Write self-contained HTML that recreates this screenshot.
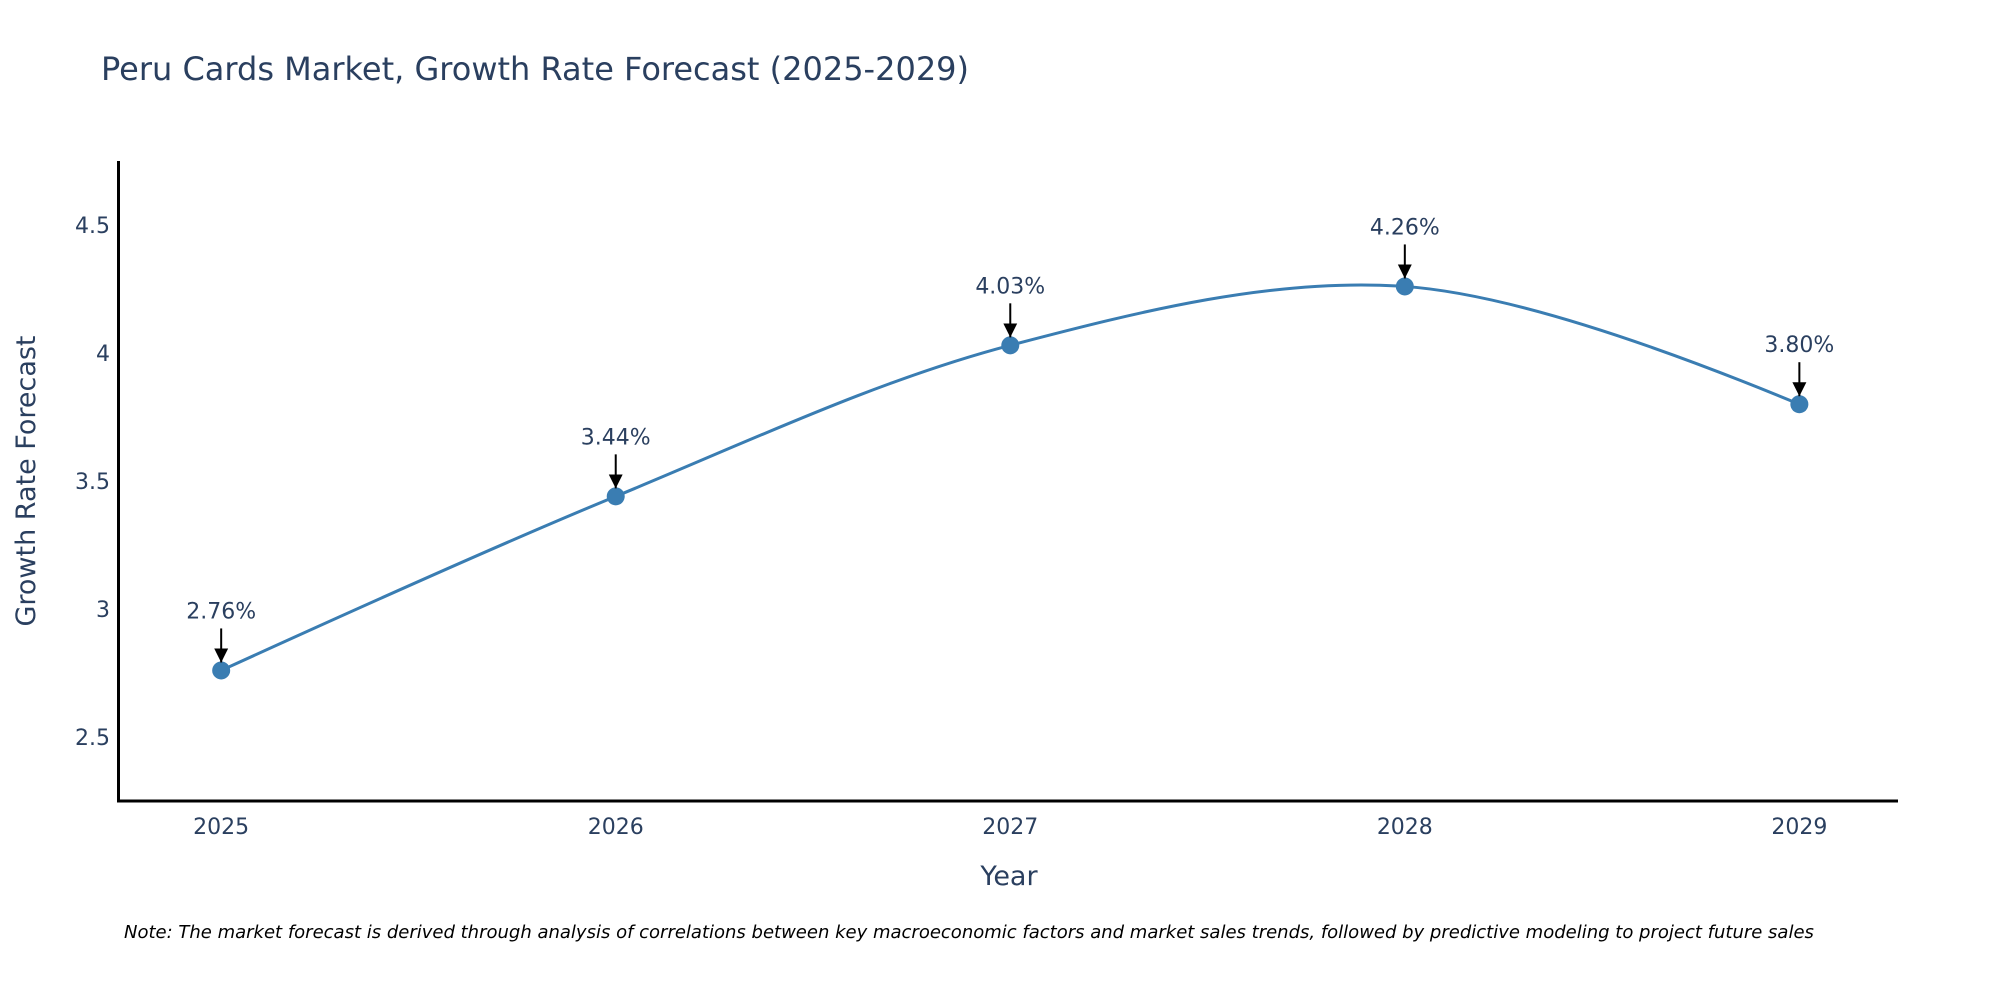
<!DOCTYPE html>
<html><head><meta charset="utf-8"><style>
html,body{margin:0;padding:0;background:#fff;}
svg{display:block;font-family:"DejaVu Sans","Liberation Sans",sans-serif;}
</style></head><body>
<svg id="chart" width="2000" height="1000" viewBox="0 0 2000 1000">
<defs><marker id="ah" markerWidth="16" markerHeight="16" refX="14" refY="8" orient="auto" markerUnits="userSpaceOnUse" viewBox="0 0 16 16"><path d="M0,1 L14,8 L0,15 z" fill="#000"/></marker></defs>
<text x="101" y="80" font-size="32" fill="#2a3f5f">Peru Cards Market, Growth Rate Forecast (2025-2029)</text>
<g id="yticks"></g>
<g id="xticks"></g>
<line x1="118.5" y1="161" x2="118.5" y2="802" stroke="#000" stroke-width="3"/>
<line x1="117" y1="801" x2="1898" y2="801" stroke="#000" stroke-width="3"/>
<text x="0" y="0" transform="translate(35,481) rotate(-90)" text-anchor="middle" font-size="27" fill="#2a3f5f">Growth Rate Forecast</text>
<text x="1009" y="885" text-anchor="middle" font-size="27" fill="#2a3f5f">Year</text>
<g id="series"></g>
<g id="annos"></g>
<text x="124" y="938" font-size="18" font-style="italic" fill="#000">Note: The market forecast is derived through analysis of correlations between key macroeconomic factors and market sales trends, followed by predictive modeling to project future sales</text>
</svg>
<script>
const years = [2025, 2026, 2027, 2028, 2029];
const values = [2.76, 3.44, 4.03, 4.26, 3.80];
const labels = ["2.76%", "3.44%", "4.03%", "4.26%", "3.80%"];
const yTicks = [2.5, 3, 3.5, 4, 4.5];
const yTickLabels = ["2.5", "3", "3.5", "4", "4.5"];

const NS = "http://www.w3.org/2000/svg";
const X0 = 118.6, X1 = 1898, Y0 = 801, Y1 = 161;
const xMin = 2024.74, xMax = 2029.25, yMin = 2.25, yMax = 4.75;
const xs = v => X0 + (v - xMin) / (xMax - xMin) * (X1 - X0);
const ys = v => Y0 - (v - yMin) / (yMax - yMin) * (Y0 - Y1);
function mk(tag, attrs, parent) {
  const e = document.createElementNS(NS, tag);
  for (const k in attrs) e.setAttribute(k, attrs[k]);
  parent.appendChild(e);
  return e;
}
const yg = document.getElementById('yticks');
yTicks.forEach((t, i) => {
  const el = mk('text', {x: 110, y: ys(t) + 8, 'text-anchor': 'end', 'font-size': 22, fill: '#2a3f5f'}, yg);
  
  
  el.textContent = yTickLabels[i];
});
const xg = document.getElementById('xticks');
years.forEach(y => {
  const el = mk('text', {x: xs(y), y: 834, 'text-anchor': 'middle', 'font-size': 22, fill: '#2a3f5f'}, xg);
  
  
  el.textContent = String(y);
});
const pts = years.map((y, i) => [xs(y), ys(values[i])]);
function tangent(p, t, n, s) {
  const d1x = p[0]-t[0], d1y = p[1]-t[1], d2x = n[0]-t[0], d2y = n[1]-t[1];
  const d1a = Math.pow(d1x*d1x+d1y*d1y, 0.25), d2a = Math.pow(d2x*d2x+d2y*d2y, 0.25);
  const nx = (d2a*d2a*d1x - d1a*d1a*d2x)*s, ny = (d2a*d2a*d1y - d1a*d1a*d2y)*s;
  const e1 = 3*d2a*(d1a+d2a), e2 = 3*d1a*(d1a+d2a);
  return [[t[0]+nx/e1, t[1]+ny/e1], [t[0]-nx/e2, t[1]-ny/e2]];
}
const tg = [];
for (let i = 1; i < pts.length-1; i++) tg.push(tangent(pts[i-1], pts[i], pts[i+1], 1));
const P = p => p[0].toFixed(2)+','+p[1].toFixed(2);
let d = 'M'+P(pts[0])+'Q'+P(tg[0][0])+' '+P(pts[1]);
for (let i = 2; i < pts.length-1; i++) d += 'C'+P(tg[i-2][1])+' '+P(tg[i-1][0])+' '+P(pts[i]);
d += 'Q'+P(tg[tg.length-1][1])+' '+P(pts[pts.length-1]);
const sg = document.getElementById('series');
const line = mk('path', {d: d, fill: 'none', stroke: '#3a7db2', 'stroke-width': 3}, sg);


pts.forEach(p => {
  const c = mk('circle', {cx: p[0], cy: p[1], r: 9, fill: '#3a7db2'}, sg);
  
  
});
const ag = document.getElementById('annos');
pts.forEach((p, i) => {
  const a = mk('line', {x1: p[0], y1: p[1]-42, x2: p[0], y2: p[1]-8, stroke: '#000', 'stroke-width': 2, 'marker-end': 'url(#ah)'}, ag);
  
  
  const t = mk('text', {x: p[0], y: p[1]-52, 'text-anchor': 'middle', 'font-size': 22, fill: '#2a3f5f'}, ag);
  
  
  t.textContent = labels[i];
});
</script>
</body></html>
